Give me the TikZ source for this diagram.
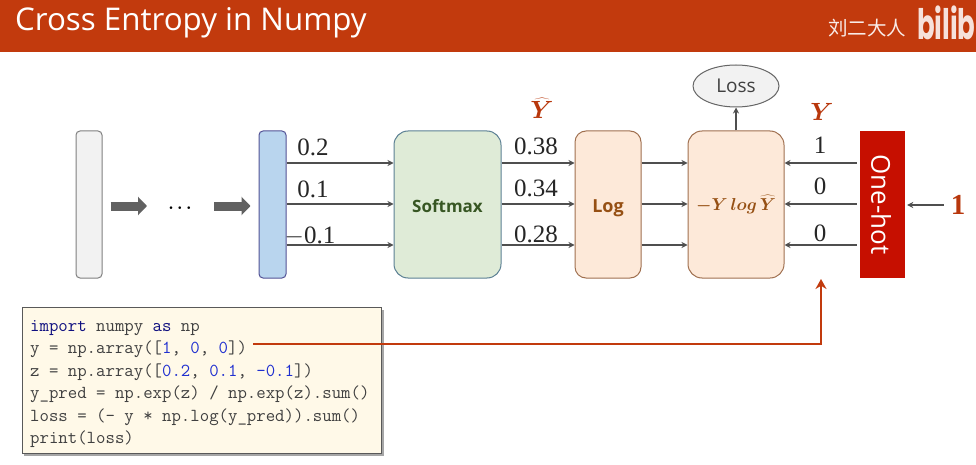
\documentclass[tikz,border=0pt]{standalone}
\usepackage{fontspec}
\usepackage{bm}
\usetikzlibrary{arrows.meta,shapes.geometric}
\setmainfont{Liberation Serif}
\setsansfont{Open Sans}
\newfontfamily\cjk{Noto Sans CJK SC}
\newfontfamily\logofont{Poppins}
\setmonofont{Latin Modern Mono}
\definecolor{hdr}{HTML}{C23A0D}
\definecolor{arw}{HTML}{4F4F4F}
\definecolor{kw}{HTML}{101080}
\definecolor{num}{HTML}{2030D0}
\definecolor{cdtx}{HTML}{404040}
\newcommand{\kwd}[1]{\textcolor{kw}{\textbf{#1}}}
\newcommand{\nm}[1]{\textcolor{num}{#1}}
\tikzset{
  box/.style={draw,line width=1pt,rounded corners=#1,minimum height=147pt,inner sep=0pt},
  flow/.style={draw=arw,line width=1.4pt,-{Stealth[length=6pt,width=6pt]}},
  fat/.style={draw=arw!90!white,line width=9pt,-{Triangle[length=9pt,width=18pt]}},
  val/.style={font=\fontsize{25}{25}\selectfont,text=black!85,inner sep=0pt},
  red/.style={text=hdr!95!black,inner sep=0pt}
}
\begin{document}
\begin{tikzpicture}[x=1pt,y=-1pt]
\useasboundingbox (0,0) rectangle (976,465);
\fill[white] (0,0) rectangle (976,465);
% header
\fill[hdr] (0,0) rectangle (976,52);
\node[anchor=base west,inner sep=0pt,text=white,font=\sffamily\fontsize{31.3}{31.3}\selectfont] (title) at (15,31) {Cross Entropy in Numpy};
\node[anchor=base west,inner sep=0pt,text=white!90!hdr,font=\cjk\fontsize{19.5}{19.5}\selectfont] (author) at (828,36) {刘二大人};
\node[anchor=base west,inner sep=0pt,xscale=0.62,text=white!85!hdr,font=\logofont\bfseries\fontsize{42}{42}\selectfont] (logo) at (917,40) {bilib};
% row coordinates
\coordinate (r1) at (0,163);
\coordinate (r2) at (0,204);
\coordinate (r3) at (0,245);
\coordinate (rf) at (0,206);
% boxes
\node[box=4pt,draw=black!50,fill=black!5,minimum width=26pt] (gray) at (89,204.5) {};
\node[inner sep=0pt,minimum width=20pt,minimum height=10pt,font=\fontsize{18}{18}\selectfont] (dots) at (180,208) {$\bm{\cdots}$};
\node[box=4pt,draw=black!25!blue!35!gray,minimum width=27pt,fill={rgb,255:red,185;green,213;blue,238}] (blue) at (272.5,204.5) {};
\node[box=14pt,draw={rgb,255:red,92;green,128;blue,148},fill={rgb,255:red,223;green,235;blue,215},minimum width=107pt,text={rgb,255:red,55;green,86;blue,35},font=\sffamily\bfseries\fontsize{17}{17}\selectfont] (soft) at (447.5,204.5) {\raisebox{-7.5pt}[0pt][0pt]{Softmax}};
\node[box=11pt,draw={rgb,255:red,160;green,112;blue,80},fill={rgb,255:red,253;green,233;blue,217},minimum width=66pt,text={rgb,255:red,150;green,80;blue,20},font=\sffamily\bfseries\fontsize{18}{18}\selectfont] (log) at (608,204.5) {\raisebox{-7.5pt}[0pt][0pt]{Log}};
\node[box=14pt,draw={rgb,255:red,160;green,112;blue,80},fill={rgb,255:red,253;green,233;blue,217},minimum width=96pt,text={rgb,255:red,150;green,80;blue,20},font=\fontsize{16.5}{16.5}\selectfont] (ce) at (736,204.5) {$\bm{-Y\,log\,\widehat{Y}}$};
\node[draw=none,fill={rgb,255:red,198;green,15;blue,0},minimum width=45pt,minimum height=147pt,inner sep=0pt] (oh) at (882.5,204.5) {};
\node[rotate=-90,text=white,inner sep=0pt,font=\sffamily\fontsize{26}{26}\selectfont] (ohtx) at (881,204.5) {One-hot};
\node[ellipse,draw=black!60,line width=1pt,fill=black!5,minimum width=86pt,minimum height=42pt,inner sep=0pt,text=black!75,font=\sffamily\fontsize{19}{19}\selectfont] (loss) at (736,86) {Loss};
% fat arrows
\draw[fat,shorten <=8pt,shorten >=33pt] (gray.east |- rf) -- (dots.center |- rf);
\draw[fat,shorten <=34pt,shorten >=8pt] (dots.center |- rf) -- (blue.west |- rf);
% flows
\foreach \r in {r1,r2,r3}{
  \draw[flow] (blue.east |- \r) -- (soft.west |- \r);
  \draw[flow] (soft.east |- \r) -- (log.west |- \r);
  \draw[flow] (log.east |- \r) -- (ce.west |- \r);
  \draw[flow,shorten <=3pt] (oh.west |- \r) -- (ce.east |- \r);
}
\draw[flow] (ce.north) -- (loss.south);
% values
\node[val] (a1) at (313,147) {0.2};
\node[val] (a2) at (313,189) {0.1};
\node[val] (a3) at (310,236) {$-$0.1};
\node[val] (b1) at (536,146) {0.38};
\node[val] (b2) at (536,188) {0.34};
\node[val] (b3) at (536,234) {0.28};
\node[val] (c1) at (820,145) {1};
\node[val] (c2) at (820,186) {0};
\node[val] (c3) at (820,233) {0};
\node[red,font=\fontsize{28}{28}\selectfont] (yhat) at (542,108) {$\bm{\widehat{Y}}$};
\node[red,font=\fontsize{26}{26}\selectfont] (y) at (822,112) {$\bm{Y}$};
\node[red,font=\bfseries\fontsize{29}{29}\selectfont] (one) at (958,205) {1};
\draw[flow,shorten >=2pt] (one.west) ++(-7,0) coordinate (onestart) -- (oh.east |- one);
% code
\fill[black!35] (24,309.5) rectangle (383.5,455.5);
\node[draw=black!65,line width=1pt,fill={rgb,255:red,255;green,249;blue,232},anchor=north west,inner sep=0pt,minimum width=359pt,minimum height=146pt] (codebox) at (22,307) {};
\node[anchor=north west,inner sep=0pt,align=left,text=cdtx,font=\ttfamily\fontsize{18.3}{22.45}\selectfont] (code) at (30,320) {\kwd{import} numpy \kwd{as} np\\
y = np.array([\nm{1}, \nm{0}, \nm{0}])\\
z = np.array([\nm{0.2}, \nm{0.1}, \nm{-0.1}])\\
y\_pred = np.exp(z) / np.exp(z).sum()\\
loss = (- y * np.log(y\_pred)).sum()\\
print(loss)};
\coordinate (cs) at (253,344);
\coordinate (ct) at (821,279);
\draw[draw=hdr,line width=2.4pt,-{Stealth[length=10pt,width=11pt]}] (cs) -| (ct);
\end{tikzpicture}
\end{document}
